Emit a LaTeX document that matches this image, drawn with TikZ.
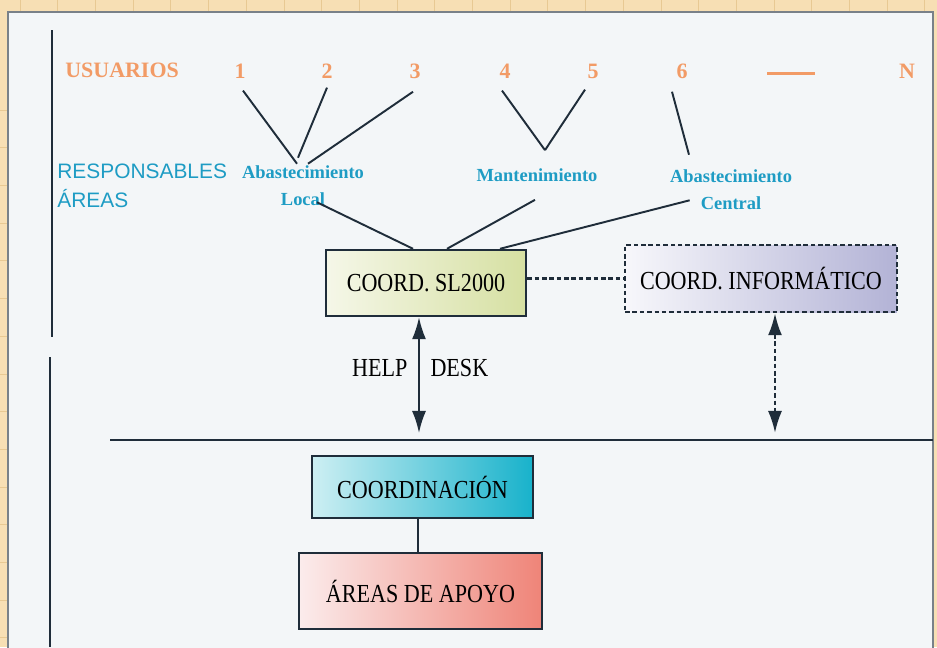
\documentclass[tikz,border=0pt]{standalone}
\usepackage{fontspec}
\setmainfont{Liberation Serif}
\setsansfont{Liberation Sans}
\newfontfamily\narrowserif[FakeStretch=0.85]{Liberation Serif}
\usetikzlibrary{arrows.meta,calc,positioning}
\definecolor{paper}{HTML}{F7DFB4}
\definecolor{paperline}{HTML}{E8C993}
\definecolor{panel}{HTML}{F3F6F8}
\definecolor{linedark}{HTML}{1F2D3A}
\definecolor{userorange}{HTML}{F29B66}
\definecolor{areateal}{HTML}{1E9CC4}
\definecolor{slleft}{HTML}{F5F7E8}
\definecolor{slright}{HTML}{D6E0A2}
\definecolor{infleft}{HTML}{F7F7FB}
\definecolor{infright}{HTML}{B3B3D6}
\definecolor{cooleft}{HTML}{CDEFF3}
\definecolor{cooright}{HTML}{18B2CB}
\definecolor{apoleft}{HTML}{FBECEC}
\definecolor{aporight}{HTML}{EF8478}

\begin{document}
\begin{tikzpicture}
		[x=0.02cm, y=-0.02cm,
		usr/.style ={text=userorange, font=\fontsize{12.5}{15}\selectfont\bfseries, inner sep=0pt},
		resp/.style ={text=areateal, font=\sffamily\fontsize{11.9}{16.4}\selectfont, align=left, anchor=west, inner sep=0pt},
		area/.style ={text=areateal, font=\fontsize{10.5}{15.3}\selectfont\bfseries, align=center, inner sep=0pt},
		block/.style ={rectangle, draw=linedark, line width=1.4pt, text=black, font=\narrowserif\fontsize{14.8}{17}\selectfont},
		dashblock/.style ={block, dash pattern=on 2.6pt off 1.6pt},
		link/.style ={draw=linedark, line width=1.1pt},
		dashlink/.style ={link, line width=1.3pt, dash pattern=on 2.6pt off 1.6pt},
		both/.style ={{Latex[length=4.4mm,width=2.8mm]}-{Latex[length=4.4mm,width=2.8mm]}, shorten >=4pt},
		deskfont/.style ={font=\narrowserif\fontsize{14.8}{17}\selectfont, text=black, inner sep=6pt},
		rule/.style ={draw=linedark, line width=1.4pt},
		]

		\useasboundingbox (0,0) rectangle (937,647);
		\fill[paper] (0,0) rectangle (937,647);
		\foreach \x in {20,57.7,...,937} \draw[paperline, line width=0.4pt] (\x,0) -- (\x,12);
		\foreach \y in {110,147.7,...,647} \draw[paperline, line width=0.4pt] (0,\y) -- (8,\y);
		\filldraw[fill=panel, draw=linedark!60, line width=0.6pt] (8,12) rectangle (933,660);

		\draw[rule] (52,30) -- (52,337);
		\draw[rule] (50,357) -- (50,647);
		\coordinate (hl) at (110,440);
		\coordinate (hr) at (933,440);
		\draw[rule] (hl) -- (hr);

		\draw (65,70) node[usr, anchor=west] (usu) {USUARIOS};
		\foreach \n/\x in {1/240,2/327,3/415,4/505,5/593,6/682}
			\draw (\x,71) node[usr] (u\n) {\n};
		\draw (907,71) node[usr] (uN) {N};
		\draw[userorange, line width=1.7pt] (767,73) -- (815,73);

		\draw (57,186) node[resp] (resp) {RESPONSABLES\\ÁREAS};
		\draw (303,186) node[area] (al) {Abastecimiento\\Local};
		\draw (537,175) node[area] (mt) {Mantenimiento};
		\draw (731,190) node[area] (ac) {Abastecimiento\\Central};

		\draw (426,283) node[block, minimum width=4cm, minimum height=1.32cm, left color=slleft, right color=slright] (sl) {COORD. SL2000};
		\draw (761,278.5) node[dashblock, minimum width=5.44cm, minimum height=1.34cm, left color=infleft, right color=infright] (inf) {COORD. INFORMÁTICO};
		\draw (422.5,487) node[block, minimum width=4.42cm, minimum height=1.24cm, left color=cooleft, right color=cooright] (coo) {COORDINACIÓN};
		\draw (420.5,591) node[block, minimum width=4.86cm, minimum height=1.52cm, left color=apoleft, right color=aporight] (apo) {ÁREAS DE APOYO};

		\draw[link] ($(u1.south)+(3,12)$) -- ($(al.north)+(-6,-2)$);
		\draw[link] ($(u2.south)+(0,9)$) -- ($(al.north)+(-5,-8)$);
		\draw[link] ($(u3.south)+(-2,13)$) -- ($(al.north)+(5,-2)$);
		\draw[link] ($(u4.south)+(-3,12)$) -- ($(mt.north)+(8,-18)$);
		\draw[link] ($(u5.south)+(-8,11)$) -- ($(mt.north)+(8,-18)$);
		\draw[link] ($(u6.south)+(-10,13)$) -- ($(ac.north)+(-42,-15)$);

		\draw[link] ($(al.south)+(14,-4)$) -- ($(sl.north)+(-13,0)$);
		\draw[link] ($(mt.south)+(-2,18)$) -- ($(sl.north)+(21,0)$);
		\draw[link] ($(ac.south west)+(20,-10)$) -- ($(sl.north)+(74,0)$);

		\coordinate (hdtop) at ($(sl.south)+(-7,0)$);
		\coordinate (hdbot) at (hdtop |- hl);
		\coordinate (inftop) at ($(inf.south)+(14,0)$);
		\coordinate (infbot) at (inftop |- hl);
		\coordinate (cootop) at (coo.south -| 418,0);
		\coordinate (apotop) at (apo.north -| 418,0);

		\draw[dashlink] (inf.west -| sl.east) -- (inf.west);
		\draw[link, both] (hdtop) -- (hdbot)
			node[deskfont, pos=0.41, left] {HELP}
			node[deskfont, pos=0.41, right] {DESK};
		\draw[dashlink, both] (inftop) -- (infbot);
		\draw[link] (cootop) -- (apotop);
	\end{tikzpicture}
\end{document}
